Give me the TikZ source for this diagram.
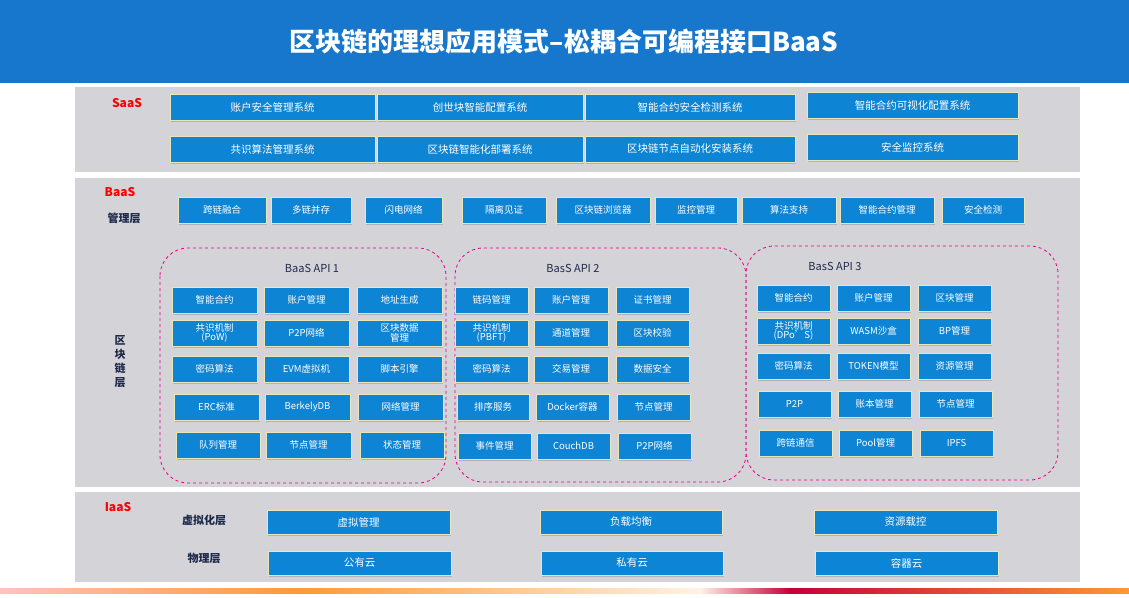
\documentclass[tikz,border=0pt]{standalone}
\usepackage{fontspec}
\setmainfont{Noto Sans CJK SC}
\usetikzlibrary{shadows}
\definecolor{tblue}{HTML}{1677CC}
\definecolor{bblue}{HTML}{0E84D4}
\definecolor{panel}{HTML}{D3D3D8}
\definecolor{navy}{HTML}{1F2A4A}
\tikzset{
 bx/.style={fill=bblue,draw=white!80!olive,line width=0.8pt,text=white,font=\fontsize{10.5}{11}\selectfont,align=center,inner sep=0pt,drop shadow={shadow xshift=1pt,shadow yshift=-1.5pt,opacity=0.4}},
 bx2/.style={bx,font=\fontsize{9.5}{9.5}\selectfont},
 pnl/.style={fill=panel,draw=none},
 lab/.style={font=\bfseries\fontsize{12}{12}\selectfont,text=red},
 sub/.style={font=\bfseries\fontsize{11}{12}\selectfont,text=navy},
 api/.style={draw=magenta,dashed,line width=0.8pt,rounded corners=28pt},
 apit/.style={font=\fontsize{11}{11}\selectfont,text=navy}
}
\newcommand{\bxat}[6]{\node[#1,minimum width=#4pt-#2pt,minimum height=#5pt-#3pt] at ({(#2+#4)/2},{(#3+#5)/2}) {#6};}
\begin{document}
\begin{tikzpicture}[x=1pt,y=-1pt]
\useasboundingbox (0,0) rectangle (1129,597);
\fill[white] (0,0) rectangle (1129,597);
\fill[tblue] (0,0) rectangle (1129,83);
\node[text=white,font=\bfseries\fontsize{26}{28}\selectfont] (title) at (564,42) {区块链的理想应用模式--松耦合可编程接口BaaS};
% panels
\fill[pnl] (75,87) rectangle (1080,172);
\fill[pnl] (75,178) rectangle (1080,487);
\fill[pnl] (75,492) rectangle (1080,582);
\node[lab] (saas) at (127,103) {SaaS};
\node[lab] (baas) at (120,192) {BaaS};
\node[sub] (glc) at (124,218) {管理层};
\node[sub,align=center,font=\bfseries\fontsize{11}{14}\selectfont] (qkl) at (120,362) {区\\块\\链\\层};
\node[lab] (iaas) at (118,507) {IaaS};
\node[sub] (xnh) at (204,520) {虚拟化层};
\node[sub] (wlc) at (204,558) {物理层};
% SaaS boxes
\bxat{bx}{170}{94}{375}{120}{账户安全管理系统}
\bxat{bx}{377}{94}{583}{120}{创世块智能配置系统}
\bxat{bx}{585}{94}{795}{120}{智能合约安全检测系统}
\bxat{bx}{807}{92}{1018}{118}{智能合约可视化配置系统}
\bxat{bx}{170}{136}{375}{162}{共识算法管理系统}
\bxat{bx}{377}{136}{583}{162}{区块链智能化部署系统}
\bxat{bx}{585}{136}{795}{162}{区块链节点自动化安装系统}
\bxat{bx}{807}{134}{1018}{160}{安全监控系统}
% management
\bxat{bx2}{178}{197}{266}{223}{跨链融合}
\bxat{bx2}{271}{197}{351}{223}{多链并存}
\bxat{bx2}{365}{197}{442}{223}{闪电网络}
\bxat{bx2}{462}{197}{546}{223}{隔离见证}
\bxat{bx2}{556}{197}{650}{223}{区块链浏览器}
\bxat{bx2}{655}{197}{737}{223}{监控管理}
\bxat{bx2}{742}{197}{836}{223}{算法支持}
\bxat{bx2}{840}{197}{934}{223}{智能合约管理}
\bxat{bx2}{942}{197}{1024}{223}{安全检测}
% API regions
\draw[api] (160,248) rectangle (446,483);
\draw[api] (455,248) rectangle (746,482);
\draw[api] (746,246) rectangle (1058,480);
\node[apit] (a1) at (312,268) {BaaS API 1};
\node[apit] (a2) at (573,268) {BasS API 2};
\node[apit] (a3) at (835,266) {BasS API 3};
% API1
\bxat{bx2}{172}{287}{257}{313}{智能合约}
\bxat{bx2}{264}{287}{349}{313}{账户管理}
\bxat{bx2}{357}{287}{442}{313}{地址生成}
\bxat{bx2}{172}{320}{257}{346}{共识机制\\(PoW)}
\bxat{bx2}{264}{320}{349}{346}{P2P网络}
\bxat{bx2}{357}{320}{442}{346}{区块数据\\管理}
\bxat{bx2}{172}{356}{257}{382}{密码算法}
\bxat{bx2}{264}{356}{349}{382}{EVM虚拟机}
\bxat{bx2}{357}{356}{442}{382}{脚本引擎}
\bxat{bx2}{174}{394}{259}{420}{ERC标准}
\bxat{bx2}{265}{394}{350}{420}{BerkelyDB}
\bxat{bx2}{358}{394}{443}{420}{网络管理}
\bxat{bx2}{176}{432}{260}{458}{队列管理}
\bxat{bx2}{266}{432}{351}{458}{节点管理}
\bxat{bx2}{360}{432}{444}{458}{状态管理}
% API2
\bxat{bx2}{455}{287}{528}{313}{链码管理}
\bxat{bx2}{534}{287}{608}{313}{账户管理}
\bxat{bx2}{616}{287}{689}{313}{证书管理}
\bxat{bx2}{455}{320}{528}{346}{共识机制\\(PBFT)}
\bxat{bx2}{534}{320}{608}{346}{通道管理}
\bxat{bx2}{616}{320}{689}{346}{区块校验}
\bxat{bx2}{455}{356}{528}{382}{密码算法}
\bxat{bx2}{534}{356}{608}{382}{交易管理}
\bxat{bx2}{616}{356}{689}{382}{数据安全}
\bxat{bx2}{457}{394}{529}{420}{排序服务}
\bxat{bx2}{536}{394}{609}{420}{Docker容器}
\bxat{bx2}{617}{394}{690}{420}{节点管理}
\bxat{bx2}{458}{433}{531}{459}{事件管理}
\bxat{bx2}{537}{433}{610}{459}{CouchDB}
\bxat{bx2}{618}{433}{691}{459}{P2P网络}
% API3
\bxat{bx2}{757}{285}{830}{311}{智能合约}
\bxat{bx2}{837}{285}{910}{311}{账户管理}
\bxat{bx2}{918}{285}{991}{311}{区块管理}
\bxat{bx2}{757}{318}{830}{344}{共识机制\\(DPo'S)}
\bxat{bx2}{837}{318}{910}{344}{WASM沙盒}
\bxat{bx2}{918}{318}{991}{344}{BP管理}
\bxat{bx2}{757}{353}{830}{379}{密码算法}
\bxat{bx2}{837}{353}{910}{379}{TOKEN模型}
\bxat{bx2}{918}{353}{991}{379}{资源管理}
\bxat{bx2}{758}{391}{831}{417}{P2P}
\bxat{bx2}{838}{391}{911}{417}{账本管理}
\bxat{bx2}{919}{391}{992}{417}{节点管理}
\bxat{bx2}{759}{430}{832}{456}{跨链通信}
\bxat{bx2}{839}{430}{912}{456}{Pool管理}
\bxat{bx2}{920}{430}{993}{456}{IPFS}
% IaaS
\bxat{bx}{267}{510}{450}{534}{虚拟管理}
\bxat{bx}{540}{510}{722}{534}{负载均衡}
\bxat{bx}{814}{510}{997}{534}{资源载控}
\bxat{bx}{268}{551}{451}{575}{公有云}
\bxat{bx}{541}{551}{723}{575}{私有云}
\bxat{bx}{815}{551}{998}{575}{容器云}
% bottom strip
\shade[left color=pink!70!red!50,right color=orange!80] (0,588) rectangle (300,593);
\shade[left color=orange!80,right color=orange!10] (300,588) rectangle (700,593);
\shade[left color=orange!10,right color=purple!90!red] (700,588) rectangle (790,593);
\shade[left color=purple!90!red,right color=orange!80] (790,588) rectangle (1129,593);
\end{tikzpicture}
\end{document}
